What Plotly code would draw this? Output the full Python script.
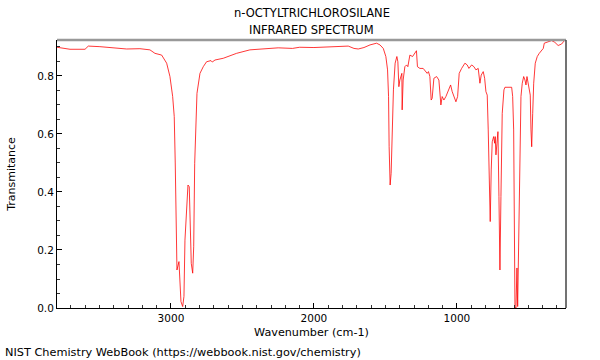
import plotly.graph_objects as go

# Wavenumber (cm-1) and transmittance
wavenumber = [3797, 3706, 3601, 3578, 3497, 3400, 3310, 3217, 3147, 3112, 3065, 3030, 3007,
              2988, 2977, 2970, 2965, 2958, 2944, 2935, 2930, 2918, 2909, 2902, 2890, 2881,
              2872, 2867, 2858, 2848, 2841, 2834, 2825, 2818, 2797, 2774, 2751, 2720, 2711,
              2692, 2634, 2541, 2448, 2350, 2250, 2150, 2100, 2000, 1900, 1850, 1800, 1760,
              1720, 1690, 1650, 1620, 1608, 1562, 1538, 1515, 1497, 1485, 1478, 1474, 1467,
              1460, 1453, 1444, 1432, 1420, 1413, 1406, 1399, 1392, 1385, 1383, 1376, 1364,
              1352, 1343, 1329, 1310, 1294, 1283, 1276, 1259, 1236, 1217, 1208, 1199, 1189,
              1180, 1173, 1161, 1142, 1126, 1112, 1103, 1091, 1077, 1061, 1044, 1033, 1019,
              1007, 995, 984, 967, 944, 928, 916, 897, 881, 867, 851, 839, 830, 816, 806,
              797, 788, 781, 774, 767, 760, 753, 743, 736, 732, 727, 720, 713, 706, 699, 692,
              683, 671, 664, 617, 610, 603, 599, 594, 587, 580, 575, 568, 559, 552, 543, 533,
              524, 517, 510, 501, 494, 487, 482, 477, 470, 463, 452, 438, 424, 408, 396, 389,
              361, 338, 315, 292, 268, 245]
transmittance = [0.899, 0.892, 0.892, 0.903, 0.901, 0.897, 0.893, 0.894, 0.890, 0.878, 0.872,
                 0.844, 0.798, 0.729, 0.660, 0.500, 0.269, 0.131, 0.160, 0.086, 0.022, 0.005,
                 0.040, 0.234, 0.360, 0.424, 0.418, 0.315, 0.154, 0.120, 0.211, 0.499, 0.671,
                 0.740, 0.809, 0.832, 0.849, 0.853, 0.848, 0.855, 0.861, 0.878, 0.890, 0.893,
                 0.897, 0.895, 0.899, 0.898, 0.901, 0.900, 0.902, 0.903, 0.895, 0.893, 0.898,
                 0.905, 0.907, 0.913, 0.907, 0.895, 0.867, 0.821, 0.729, 0.556, 0.424, 0.464,
                 0.614, 0.752, 0.844, 0.867, 0.849, 0.763, 0.786, 0.798, 0.809, 0.683, 0.786,
                 0.832, 0.838, 0.832, 0.872, 0.867, 0.878, 0.887, 0.832, 0.826, 0.826, 0.815,
                 0.809, 0.815, 0.798, 0.717, 0.723, 0.792, 0.798, 0.786, 0.700, 0.729, 0.717,
                 0.729, 0.752, 0.769, 0.746, 0.723, 0.711, 0.729, 0.809, 0.826, 0.844, 0.838,
                 0.826, 0.838, 0.832, 0.821, 0.826, 0.775, 0.803, 0.815, 0.792, 0.746, 0.734,
                 0.614, 0.441, 0.298, 0.476, 0.573, 0.591, 0.568, 0.591, 0.528, 0.568, 0.608,
                 0.384, 0.131, 0.384, 0.671, 0.752, 0.761, 0.761, 0.729, 0.614, 0.269, 0.005,
                 0.000, 0.138, 0.005, 0.269, 0.556, 0.729, 0.775, 0.798, 0.786, 0.769, 0.798,
                 0.769, 0.746, 0.734, 0.614, 0.556, 0.671, 0.775, 0.844, 0.867, 0.878, 0.887,
                 0.895, 0.913, 0.918, 0.922, 0.916, 0.905, 0.910, 0.924]

x_tick_vals = [3000, 2000, 1000]
y_tick_vals = [0.0, 0.2, 0.4, 0.6, 0.8]
y_tick_text = ["0.0", "0.2", "0.4", "0.6", "0.8"]

title_lines = ["n-OCTYLTRICHLOROSILANE", "INFRARED SPECTRUM"]
footer = "NIST Chemistry WebBook (https://webbook.nist.gov/chemistry)"

FONT = "DejaVu Sans, Liberation Sans, sans-serif"

fig = go.Figure()
fig.add_trace(go.Scatter(
    x=wavenumber, y=transmittance, mode="lines",
    line=dict(color="rgba(255,0,0,0.78)", width=1),
    hoverinfo="skip", showlegend=False,
))

fig.update_layout(
    width=600, height=360,
    margin=dict(l=57, r=34, t=40, b=52, autoexpand=False),
    paper_bgcolor="white", plot_bgcolor="white",
    font=dict(family=FONT, size=11, color="black"),
    xaxis=dict(range=[3797, 237], showgrid=False, zeroline=False, automargin=False,
               tickmode="array", tickvals=x_tick_vals,
               ticks="inside", ticklen=5, tickcolor="black", tickwidth=1,
               minor=dict(dtick=100, tick0=0, ticks="inside", ticklen=3, tickcolor="#333"),
               showline=True, linecolor="black", linewidth=1,
               title=dict(text="Wavenumber (cm-1)", standoff=5,
                          font=dict(family=FONT, size=11.2)),
               tickfont=dict(family=FONT, size=10.5)),
    yaxis=dict(range=[0, 0.924], showgrid=False, zeroline=False, automargin=False,
               tickmode="array", tickvals=y_tick_vals, ticktext=y_tick_text,
               ticks="inside", ticklen=5, tickcolor="black", tickwidth=1,
               minor=dict(dtick=0.05, tick0=0, ticks="inside", ticklen=3, tickcolor="#333"),
               showline=True, linecolor="black", linewidth=1,
               title=dict(text="Transmitance", standoff=19,
                          font=dict(family=FONT, size=11)),
               tickfont=dict(family=FONT, size=10.5)),
    shapes=[
        dict(type="line", xref="paper", yref="paper", x0=0, x1=1, y0=1, y1=1,
             line=dict(color="#999999", width=2.5)),
        dict(type="line", xref="paper", yref="paper", x0=1, x1=1, y0=0, y1=1,
             line=dict(color="#444444", width=1.5)),
    ],
    annotations=[
        dict(text=title_lines[0], xref="paper", yref="paper", x=0.5, y=(308 - 13) / 268,
             xanchor="center", yanchor="middle", showarrow=False,
             font=dict(family=FONT, size=11.5, color="black")),
        dict(text=title_lines[1], xref="paper", yref="paper", x=0.5, y=(308 - 30) / 268,
             xanchor="center", yanchor="middle", showarrow=False,
             font=dict(family=FONT, size=11.5, color="black")),
        dict(text=footer, xref="paper", yref="paper", x=(3 - 57) / 509, y=(308 - 352) / 268,
             xanchor="left", yanchor="middle", showarrow=False,
             font=dict(family=FONT, size=11.3, color="black")),
    ],
)

fig.write_html("out.html", config={"displayModeBar": False},
               post_script="document.body.style.margin='0px';document.body.style.padding='0px';")
